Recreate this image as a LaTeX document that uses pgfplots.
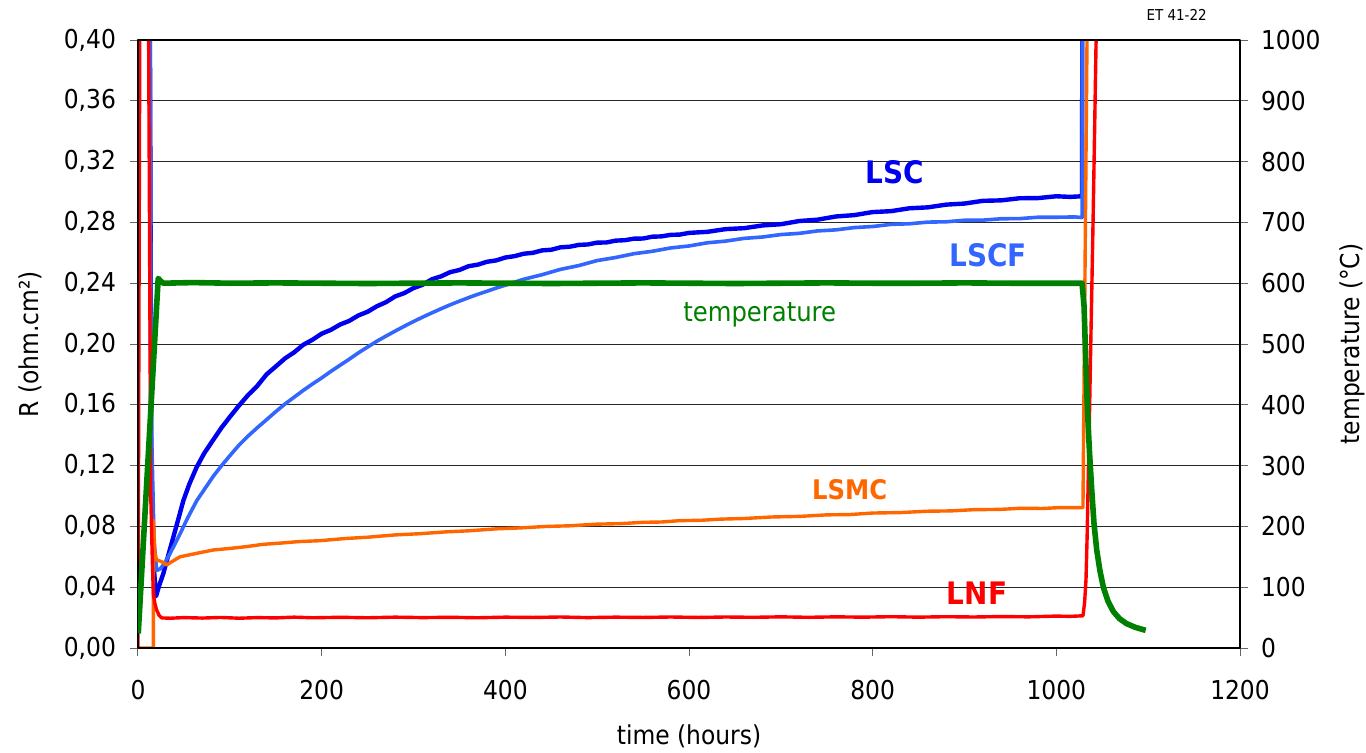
\documentclass[border=0pt]{standalone}
\usepackage{pgfplots}
\pgfplotsset{compat=1.18}
\usepackage{fontspec}
\setmainfont{DejaVu Sans Condensed}
\definecolor{cLSC}{RGB}{0,0,240}
\definecolor{cLSCF}{RGB}{51,102,255}
\definecolor{cLSMC}{RGB}{255,102,0}
\definecolor{cLNF}{RGB}{255,0,0}
\definecolor{cT}{RGB}{0,128,0}
\begin{document}
\begin{tikzpicture}
\useasboundingbox (-69pt,-52pt) rectangle (614pt,324pt);
\pgfplotsset{common/.style={width=551pt,height=304pt,scale only axis,
  xmin=0,xmax=1200, at={(0,0)}, anchor=south west, clip mode=individual,
  ticklabel style={font=\fontsize{13}{15}\selectfont},
  label style={font=\fontsize{13}{15}\selectfont},
  /pgf/number format/assume math mode=true,
  /pgf/number format/set thousands separator={},
  tick align=outside, major tick length=4pt,
  tick style={black!60, line width=0.5pt},
  line join=round}}
\begin{axis}[common, ymin=0, ymax=0.4,
  ytick={0,0.04,0.08,0.12,0.16,0.2,0.24,0.28,0.32,0.36,0.4},
  xtick={0,200,400,600,800,1000,1200},
  yticklabel style={xshift=-3.5pt, /pgf/number format/.cd, fixed, fixed zerofill, precision=2, use comma},
  xticklabel style={yshift=-8.5pt},
  xtick pos=bottom, ytick pos=left,
  ymajorgrids, major grid style={black!85, line width=0.5pt},
  xlabel={time (hours)}, ylabel={R (ohm.cm²)},
  xlabel style={at={(axis description cs:0.5,-0.146)}, anchor=center},
  ylabel style={at={(axis description cs:-0.098,0.5)}, anchor=center},
]
% LSC
\addplot[cLSC, line width=2.2pt] coordinates {(12.5,0.5)(14.5,0.12)(17,0.055)(19.6,0.034)(23,0.041)(27.6,0.049)(33,0.061)(38.5,0.073)(44,0.085)(49.4,0.097)(56,0.108)(63.9,0.119)(72,0.128)(82,0.137)(91,0.145)(100,0.152)(110,0.1595)(120,0.1665)(130,0.1725)(140,0.180)(150,0.1852)(160,0.1905)(170,0.1945)(180,0.1995)(190,0.2028)(200,0.2068)(210,0.2093)(220,0.2128)(230,0.2152)(240,0.2188)(250,0.2212)(260,0.2248)(270,0.2275)(280,0.2313)(290,0.2335)(300,0.2368)(310,0.2390)(320,0.2426)(330,0.2445)(340,0.2473)(350,0.2487)(360,0.2512)(370,0.2522)(380,0.2541)(390,0.2550)(400,0.2569)(410,0.2578)(420,0.2594)(430,0.2600)(440,0.2616)(450,0.2620)(460,0.2636)(470,0.2640)(480,0.2652)(490,0.2655)(500,0.2667)(510,0.2668)(520,0.2680)(530,0.2683)(540,0.2693)(550,0.2694)(560,0.2706)(570,0.2708)(580,0.2718)(590,0.2720)(600,0.2731)(620,0.2738)(640,0.2756)(660,0.2762)(680,0.2780)(700,0.2788)(720,0.2809)(740,0.2818)(760,0.2839)(780,0.2848)(800,0.2868)(820,0.2874)(840,0.2893)(860,0.2899)(880,0.2917)(900,0.2924)(920,0.2942)(940,0.2945)(960,0.2959)(980,0.2960)(1000,0.2972)(1015,0.2968)(1028,0.2972)(1028.5,0.5)};
% LSCF
\addplot[cLSCF, line width=1.8pt] coordinates {(12.5,0.5)(14.5,0.15)(17.5,0.07)(20.3,0.051)(24,0.052)(27.6,0.0546)(33,0.060)(39,0.067)(45.7,0.075)(54,0.0855)(64,0.097)(73,0.105)(82,0.113)(91,0.120)(100,0.1265)(110,0.1335)(120,0.1395)(130,0.1450)(140,0.1502)(150,0.1555)(160,0.1605)(170,0.1650)(180,0.1695)(190,0.1737)(200,0.1777)(210,0.1820)(220,0.1860)(230,0.1900)(240,0.1942)(250,0.1980)(260,0.2018)(270,0.2052)(280,0.2085)(290,0.2117)(300,0.2148)(310,0.2177)(320,0.2205)(330,0.2232)(340,0.2258)(350,0.2282)(360,0.2305)(370,0.2327)(380,0.2347)(390,0.2368)(400,0.2387)(420,0.2426)(440,0.2456)(460,0.2491)(480,0.2516)(500,0.2549)(520,0.2569)(540,0.2594)(560,0.2610)(580,0.2632)(600,0.2645)(620,0.2666)(640,0.2677)(660,0.2695)(680,0.2704)(700,0.2720)(720,0.2728)(740,0.2744)(760,0.2751)(780,0.2766)(800,0.2773)(820,0.2787)(840,0.2791)(860,0.2802)(880,0.2804)(900,0.2814)(920,0.2815)(940,0.2824)(960,0.2825)(980,0.2834)(1000,0.2834)(1020,0.2836)(1028,0.2832)(1028.5,0.5)};
% LSMC
\addplot[cLSMC, line width=1.7pt] coordinates {(0,0)(16,0)(16.7,0.0)(16.8,0.084)(17.5,0.075)(18.5,0.062)(20.3,0.058)(25.8,0.0568)(31.2,0.0546)(36,0.0565)(45.7,0.060)(60,0.0618)(82,0.0645)(100,0.0655)(118,0.0667)(136,0.0682)(154.6,0.069)(175,0.0700)(198,0.0706)(225,0.0720)(250,0.0729)(280,0.0744)(307,0.0752)(335,0.0764)(360,0.0771)(390,0.0784)(416,0.0790)(445,0.0800)(470,0.0804)(500,0.0815)(525,0.0818)(550,0.0827)(570,0.0829)(590,0.0838)(612,0.0840)(635,0.0848)(660,0.0852)(690,0.0862)(721,0.0866)(750,0.0876)(775,0.0878)(800,0.0888)(830,0.0891)(860,0.0900)(885,0.0902)(910,0.0910)(938.7,0.0912)(960,0.0919)(985,0.0918)(1005,0.0924)(1027.6,0.0923)(1029,0.0925)(1033.4,0.40)(1034,0.5)};
% LNF
\addplot[cLNF, line width=1.7pt] coordinates {(0,0)(2.4,0.5)(11,0.5)(11.6,0.4)(13.9,0.10)(15.6,0.058)(16.7,0.036)(18.5,0.029)(20.3,0.025)(23,0.0215)(25.8,0.0198)(35,0.0196)(50,0.0200)(70,0.0197)(90,0.0201)(110,0.0196)(130,0.0200)(150,0.0198)(170,0.0203)(190,0.0199)(220,0.0202)(250,0.0199)(280,0.0203)(310,0.0200)(340,0.0202)(370,0.0199)(400,0.0203)(430,0.0201)(460,0.0204)(490,0.0200)(520,0.0203)(550,0.0201)(580,0.0204)(610,0.0201)(640,0.0204)(670,0.0202)(700,0.0205)(730,0.0202)(760,0.0205)(790,0.0203)(820,0.0206)(850,0.0203)(880,0.0206)(910,0.0204)(940,0.0207)(970,0.0205)(1000,0.0210)(1015,0.0208)(1029,0.0212)(1030.8,0.030)(1032.3,0.045)(1033.6,0.075)(1034.9,0.117)(1036.2,0.157)(1037.4,0.197)(1038.9,0.245)(1040.3,0.291)(1041.8,0.345)(1043.3,0.40)(1044,0.5)};
\node[font=\fontsize{15.5}{17}\selectfont\bfseries, text=cLSC] at (axis cs:824,0.313) {LSC};
\node[font=\fontsize{15.5}{17}\selectfont\bfseries, text=cLSCF] at (axis cs:925.6,0.2586) {LSCF};
\node[font=\fontsize{13.5}{15}\selectfont, text=cT] at (axis cs:677,0.219) {temperature};
\node[font=\fontsize{13.5}{15}\selectfont\bfseries, text=cLSMC] at (axis cs:775,0.104) {LSMC};
\node[font=\fontsize{15.5}{17}\selectfont\bfseries, text=cLNF] at (axis cs:913.6,0.036) {LNF};
\node[font=\fontsize{7.5}{9}\selectfont] at (axis cs:1131,0.4164) {ET 41-22};
\end{axis}
\begin{axis}[common, ymin=0, ymax=1000,
  ytick={0,100,200,300,400,500,600,700,800,900,1000},
  hide x axis, axis line style={draw=none},
  ytick pos=right, yticklabel pos=right,
  yticklabel style={xshift=3pt},
  ylabel={temperature (°C)},
  ylabel style={at={(axis description cs:1.1016,0.5)}, anchor=center},
]
\draw[black, line width=1.3pt] (rel axis cs:0,0) rectangle (rel axis cs:1,1);
\addplot[cT, line width=2.8pt] coordinates {(0.3,24)(22,608)(25,603)(27.6,600)(60,601)(100,600)(150,600.5)(200,600)(250,599.5)(300,600)(350,600.5)(400,600)(450,599.5)(500,600)(550,600.5)(600,600)(650,599.5)(700,600)(750,600.5)(800,600)(850,600)(900,600.5)(950,600)(1000,600)(1028,600)(1030.2,562)(1031.9,480)(1033.8,395)(1036,325)(1038.5,261)(1041,205)(1044,161)(1047.5,127)(1051.2,100)(1056,78)(1062,60)(1069,48)(1076.6,40)(1086,34)(1097.3,29)};
\end{axis}
\end{tikzpicture}
\end{document}
